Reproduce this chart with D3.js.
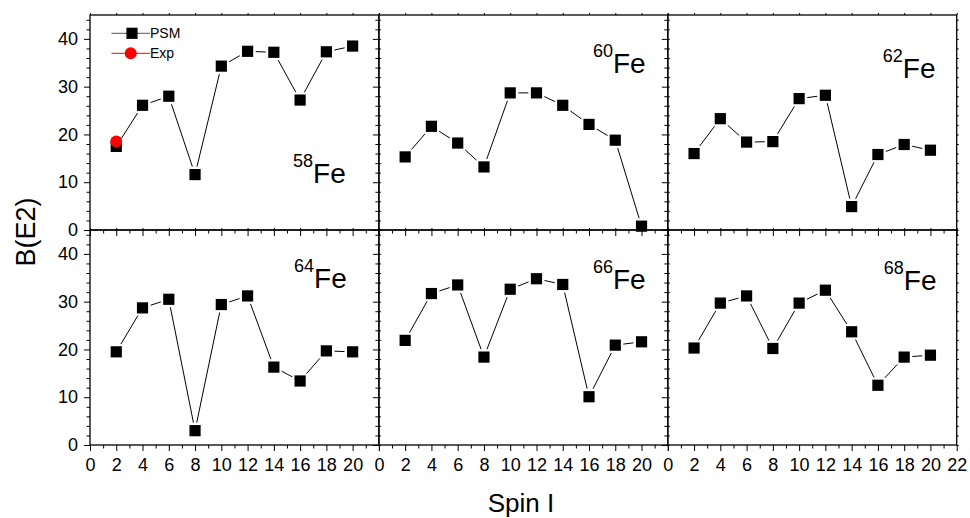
<!DOCTYPE html>
<html>
<head>
<meta charset="utf-8">
<script src="https://cdn.jsdelivr.net/npm/d3@7"></script>
<style>
  body { margin: 0; background: #fff; }
  text { font-family: "Liberation Sans", Arial, sans-serif; fill: #000; }
</style>
</head>
<body>
<svg id="chart" width="970" height="518"></svg>
<script>
// Spin values shared by every isotope
const spins = [2, 4, 6, 8, 10, 12, 14, 16, 18, 20];

// Mass numbers of the Fe isotopes, one panel each
const isotopes = ["58", "60", "62", "64", "66", "68"];

// PSM B(E2) values per isotope
const psm58 = [17.5, 26.1, 28.0, 11.6, 34.3, 37.4, 37.2, 27.2, 37.3, 38.5];
const psm60 = [15.3, 21.7, 18.2, 13.2, 28.7, 28.7, 26.1, 22.1, 18.8, 0.8];
const psm62 = [16.0, 23.3, 18.4, 18.5, 27.5, 28.2, 4.9, 15.8, 17.9, 16.7];
const psm64 = [19.5, 28.7, 30.5, 3.0, 29.4, 31.2, 16.3, 13.4, 19.7, 19.5];
const psm66 = [21.9, 31.7, 33.5, 18.4, 32.6, 34.8, 33.6, 10.1, 20.9, 21.6];
const psm68 = [20.3, 29.7, 31.2, 20.2, 29.7, 32.4, 23.7, 12.5, 18.4, 18.8];
const psmSeries = [psm58, psm60, psm62, psm64, psm66, psm68];

// Experimental point (58Fe only)
const expSpins = [2];
const exp58 = [18.5];

// Axis ticks
const yMajor = [0, 10, 20, 30, 40];
const yMinor = [2, 4, 6, 8, 12, 14, 16, 18, 22, 24, 26, 28, 32, 34, 36, 38, 42, 44];
const xMajor = [0, 2, 4, 6, 8, 10, 12, 14, 16, 18, 20, 22];
const xMinor = [1, 3, 5, 7, 9, 11, 13, 15, 17, 19, 21];

// Layout
const left0 = 90, top0 = 15, pw = 288.9, ph = 215;
// isotope label placement inside each panel: [x of mass number, baseline of "Fe"]
const labelPos = [[203, 168], [214, 58], [215, 63], [204, 58], [214, 59], [216, 60]];

const svg = d3.select("#chart");
const x = d3.scaleLinear().domain([0, 22]).range([0, pw]);
const y = d3.scaleLinear().domain([0, 45]).range([ph, 0]);

const half = 5.6;   // half side of square marker
const gap = 2.5;    // gap between line ends and markers

function gappedSegments(pts) {
  const segs = [];
  for (let i = 0; i < pts.length - 1; i++) {
    const [x1, y1] = pts[i], [x2, y2] = pts[i + 1];
    const dx = x2 - x1, dy = y2 - y1, len = Math.hypot(dx, dy);
    const ux = dx / len, uy = dy / len;
    const cut = half / Math.max(Math.abs(ux), Math.abs(uy)) + gap;
    if (len <= 2 * cut) continue;
    segs.push([x1 + ux * cut, y1 + uy * cut, x2 - ux * cut, y2 - uy * cut]);
  }
  return segs;
}

isotopes.forEach((iso, i) => {
  const col = i % 3, row = Math.floor(i / 3);
  const g = svg.append("g")
    .attr("transform", `translate(${left0 + col * pw},${top0 + row * ph})`);

  // left axis: labelled only in the first column
  const yAxis = d3.axisLeft(y).tickValues(yMajor).tickSize(6).tickSizeOuter(0).tickPadding(6)
    .tickFormat(col === 0 ? d3.format("d") : () => "");
  g.append("g").call(yAxis);
  g.append("g").call(d3.axisLeft(y).tickValues(yMinor).tickSize(3.5).tickSizeOuter(0).tickFormat(() => ""));

  // bottom axis: labelled only in the bottom row
  const xLabels = row === 1 ? (d => (col === 2 || d <= 20) ? d : "") : () => "";
  g.append("g").attr("transform", `translate(0,${ph})`)
    .call(d3.axisBottom(x).tickValues(xMajor).tickSize(6).tickSizeOuter(0).tickPadding(7).tickFormat(xLabels));
  g.append("g").attr("transform", `translate(0,${ph})`)
    .call(d3.axisBottom(x).tickValues(xMinor).tickSize(3.5).tickSizeOuter(0).tickFormat(() => ""));

  // small outward ticks on top and right edges
  g.append("g").call(d3.axisTop(x).tickValues(xMajor).tickSize(2).tickSizeOuter(0).tickFormat(() => ""));
  g.append("g").attr("transform", `translate(${pw},0)`)
    .call(d3.axisRight(y).tickValues(yMajor.concat(yMinor)).tickSize(2).tickSizeOuter(0).tickFormat(() => ""));

  g.selectAll(".tick text").style("font-size", "18px").style("font-family", '"Liberation Sans", Arial, sans-serif');
  g.selectAll(".domain").remove();
  g.selectAll(".tick line").attr("stroke", "#000").attr("stroke-width", 1);

  // frame
  g.append("rect").attr("x", 0).attr("y", 0).attr("width", pw).attr("height", ph)
    .attr("fill", "none").attr("stroke", "#000").attr("stroke-width", 1.3);

  // PSM line with gaps around markers
  const pts = spins.map((s, k) => [x(s), y(psmSeries[i][k])]);
  g.append("g").selectAll("line").data(gappedSegments(pts)).join("line")
    .attr("x1", d => d[0]).attr("y1", d => d[1]).attr("x2", d => d[2]).attr("y2", d => d[3])
    .attr("stroke", "#000").attr("stroke-width", 1);

  g.append("g").selectAll("rect").data(pts).join("rect")
    .attr("x", d => d[0] - half).attr("y", d => d[1] - half)
    .attr("width", 2 * half).attr("height", 2 * half).attr("fill", "#000");

  if (i === 0) {
    g.append("g").selectAll("circle").data(expSpins.map((s, k) => [x(s), y(exp58[k])])).join("circle")
      .attr("cx", d => d[0]).attr("cy", d => d[1]).attr("r", 6).attr("fill", "#f00");

    // legend
    const lg = g.append("g");
    const rows = [
      { name: "PSM", color: "#555", cy: 18.3 },
      { name: "Exp", color: "#f00", cy: 38.3 }
    ];
    rows.forEach((r, k) => {
      lg.append("line").attr("x1", 21.5).attr("x2", 60).attr("y1", r.cy).attr("y2", r.cy)
        .attr("stroke", r.color).attr("stroke-width", 1);
      if (k === 0) {
        lg.append("rect").attr("x", 42 - half).attr("y", r.cy - half)
          .attr("width", 2 * half).attr("height", 2 * half).attr("fill", "#000");
      } else {
        lg.append("circle").attr("cx", 40.7).attr("cy", r.cy).attr("r", 6).attr("fill", "#f00");
      }
      lg.append("text").attr("x", 60).attr("y", r.cy + 5).style("font-size", "14px").text(r.name);
    });
  }

  // isotope label
  const [lx, ly] = labelPos[i];
  const t = g.append("text").attr("x", lx).attr("y", ly);
  t.append("tspan").attr("dy", -16).style("font-size", "18px").text(iso);
  t.append("tspan").attr("dy", 16).style("font-size", "28px").text("Fe");
});

// axis titles
svg.append("text")
  .attr("transform", "translate(35,232) rotate(-90)")
  .attr("text-anchor", "middle")
  .style("font-size", "27px")
  .text("B(E2)");

svg.append("text")
  .attr("x", 521).attr("y", 512)
  .attr("text-anchor", "middle")
  .style("font-size", "26px")
  .text("Spin I");
</script>
</body>
</html>
